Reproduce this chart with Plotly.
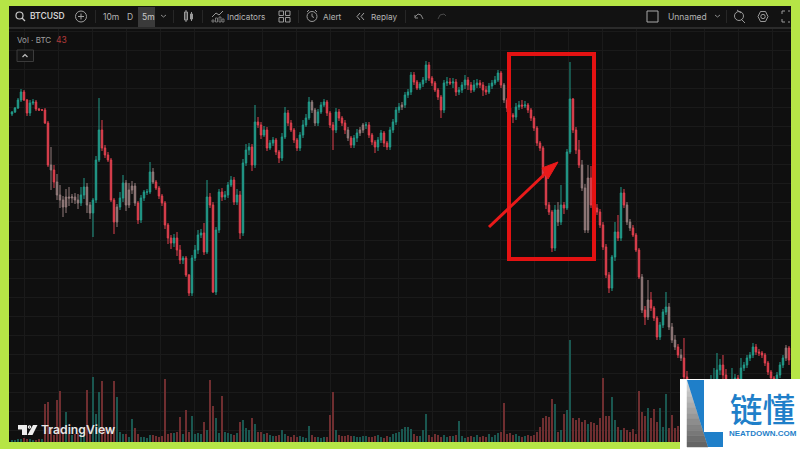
import plotly.graph_objects as go

first_open = 335
closes = [
 337,341,349,357,349,336,346,347,340,339,339,326,284,279,267,254,249,242,252,251,
 252,249,246,254,262,244,236,249,289,319,301,294,289,249,227,242,251,266,244,259,
 263,246,229,251,257,257,277,267,261,253,246,224,211,206,211,199,189,191,174,156,
 191,199,214,216,197,252,244,157,219,257,252,254,264,269,247,254,216,286,299,302,
 284,327,324,314,319,301,306,309,297,291,312,336,326,319,309,301,314,324,331,347,
 339,326,337,344,347,336,324,319,337,331,326,319,311,304,311,316,319,324,324,314,
 307,302,309,316,306,302,319,327,339,342,344,354,357,374,367,361,365,369,384,371,
 366,359,352,339,366,367,366,367,357,359,364,369,364,359,364,366,364,359,357,363,
 366,369,376,364,349,341,334,332,342,344,343,344,339,331,321,306,301,274,244,237,
 201,239,227,244,241,297,350,319,299,284,261,219,271,244,241,237,224,202,174,161,
 192,217,211,256,244,227,221,214,199,172,139,132,149,141,131,112,124,137,142,122,
 109,102,94,91,72,57,54,51,49,53,57,55,53,64,69,79,84,74,64,61,
 67,71,69,81,84,91,94,102,97,96,94,86,77,71,69,74,84,91,101,89,
]
upper_wick = [
 1,1,2,3,2,1,3,3,2,1,1,2,2,18,5,8,10,4,8,10,
 3,4,6,8,9,4,3,2,4,32,10,3,3,2,2,3,6,8,3,7,
 5,3,2,3,2,3,10,4,2,2,2,2,2,3,4,6,5,2,2,1,
 3,5,5,4,10,17,4,3,3,3,4,4,3,4,3,6,4,4,6,4,
 3,17,5,3,4,3,3,3,2,2,4,6,3,3,2,2,3,5,4,5,
 2,2,3,3,3,2,2,3,4,3,2,3,3,2,3,4,3,2,3,3,
 2,2,3,3,2,2,3,3,3,4,3,3,3,3,3,2,2,3,4,3,
 2,2,2,2,3,5,4,4,3,3,3,5,3,3,5,4,3,3,4,3,
 3,4,3,2,2,2,2,2,4,4,5,4,2,2,2,2,2,2,3,3,
 2,5,8,20,3,3,37,1,3,10,5,4,13,12,4,4,3,3,3,3,
 2,10,17,6,4,3,3,3,2,2,3,4,20,8,2,2,3,3,15,4,
 4,5,3,6,20,6,5,8,10,14,8,6,8,10,12,17,6,10,6,4,
 14,4,3,10,3,3,3,4,3,3,2,2,2,2,2,3,3,3,3,2,
]
lower_wick = [
 2,1,1,2,1,3,3,2,2,1,1,1,2,20,6,5,8,10,6,8,
 5,4,6,3,4,8,6,24,3,2,3,3,2,2,12,5,3,4,6,3,
 4,3,4,3,3,3,2,2,2,3,3,4,6,6,4,6,4,4,2,3,
 3,3,4,3,3,2,3,1,3,3,4,3,3,2,3,3,6,3,3,5,
 6,3,3,4,2,3,2,3,3,5,3,2,3,2,3,3,3,3,2,2,
 3,3,3,2,2,3,3,20,3,3,3,4,3,3,3,4,3,3,4,3,
 3,6,4,3,4,3,3,3,3,3,3,3,3,3,3,2,2,3,3,3,
 3,2,3,8,3,3,2,5,4,3,3,4,5,3,2,3,3,6,3,2,
 3,2,2,3,3,4,6,6,3,3,3,2,3,3,3,3,3,3,4,3,
 4,3,4,3,6,2,2,3,4,3,3,3,3,3,3,3,3,3,3,5,
 3,4,3,3,3,3,3,2,2,2,3,8,3,3,3,3,3,3,3,3,
 3,3,3,3,5,8,8,6,6,6,5,6,5,4,8,8,5,6,6,5,
 4,4,5,4,3,3,3,3,3,3,3,3,3,3,4,3,3,3,3,5,
]
volumes = [
 2,2,3,3,4,3,3,2,2,3,3,38,40,14,7,42,51,10,30,8,
 7,8,9,8,7,52,9,65,28,50,61,14,8,12,61,45,10,8,8,5,
 23,14,8,5,5,4,7,7,6,5,6,63,8,9,9,10,25,8,32,10,
 26,8,9,8,20,12,62,36,24,9,46,10,9,8,7,9,20,22,14,12,
 24,18,10,10,8,9,7,6,6,7,12,8,6,5,7,5,6,5,4,16,
 7,5,5,4,5,5,27,50,12,7,6,6,7,6,6,5,5,6,6,5,
 5,6,7,5,4,6,5,8,9,10,13,15,15,13,8,6,6,12,28,7,
 5,8,7,5,7,5,6,6,7,21,6,4,5,6,5,7,5,6,5,8,
 5,7,9,10,39,8,9,7,8,6,5,6,7,6,7,10,15,24,26,25,
 43,38,10,12,28,32,102,24,22,24,20,22,18,20,19,17,24,64,26,26,
 45,22,15,12,14,12,10,13,8,51,30,26,34,24,33,20,34,15,48,14,
 27,14,16,10,8,10,9,7,6,5,8,7,6,5,7,6,5,6,7,6,
 5,6,5,7,6,5,6,5,4,5,6,4,5,6,5,4,6,5,4,5,
]
# bars that read as a muted grey in the reference (small, blended bodies)
muted_bars = [13, 15, 16, 17, 18, 19, 20, 21, 22, 25, 26, 35, 38, 39, 40, 41, 47,
              100, 101, 112, 116, 117, 130, 164, 182, 190, 191, 192, 205, 206,
              210, 212, 219, 220, 221, 223, 258]
toolbar_labels = ["BTCUSD", "10m", "D", "5m", "Indicators", "Alert", "Replay", "Unnamed"]
study_label = "Vol · BTC"
study_value = "43"

bars = list(range(len(closes)))
opens = [first_open] + closes[:-1]
highs = [max(o, c) + u for o, c, u in zip(opens, closes, upper_wick)]
lows = [min(o, c) - l for o, c, l in zip(opens, closes, lower_wick)]

W, H = 800, 449
RED, TEAL = "#e0404f", "#229c8b"
GREY = "#947c7c"
VRED, VTEAL = "#6f2e30", "#1a5750"
GREEN = "#b6e546"
PANEL = "#0f0f0f"
TXT = "#b4b4b4"
FONT = "Inter"


def X(px):
    return round(px / W, 5)


def Y(py):
    return round(1 - py / H, 5)


def path(points, close=False):
    s = "M" + " L".join(f"{X(a)},{Y(b)}" for a, b in points)
    return s + (" Z" if close else "")


shapes = []


def rect(x0, y0, x1, y1, fill, line=None, lw=0):
    shapes.append(dict(type="rect", xref="paper", yref="paper", x0=X(x0), x1=X(x1), y0=Y(y0), y1=Y(y1),
                       fillcolor=fill, line=dict(color=line or fill, width=lw), layer="above"))


def poly(points, fill=None, line=None, lw=1, close=True):
    shapes.append(dict(type="path", xref="paper", yref="paper", path=path(points, close),
                       fillcolor=fill or "rgba(0,0,0,0)", line=dict(color=line or "rgba(0,0,0,0)", width=lw),
                       layer="above"))


def circ(cx, cy, r, line=TXT, lw=1):
    shapes.append(dict(type="circle", xref="paper", yref="paper", x0=X(cx - r), x1=X(cx + r), y0=Y(cy + r),
                       y1=Y(cy - r), line=dict(color=line, width=lw), layer="above"))


# frame
rect(0, 0, W, 6, GREEN)
rect(0, 442, W, H, GREEN)
rect(0, 0, 9, H, GREEN)
rect(791, 0, W, H, GREEN)
# toolbar
rect(9, 6, 791, 27, "#121212")
rect(9, 27, 791, 29, "#2b2b2b")
rect(138, 7, 155, 27, "#3a3a3a")
for sx in [95, 173, 202, 298, 405, 726]:
    rect(sx, 10, sx + 0.8, 23, "#2e2e2e")
# search icon
circ(19.5, 15.5, 3.5, "#c8c8c8", 1.2)
poly([(22, 18), (25, 21)], line="#c8c8c8", lw=1.2, close=False)
# plus
circ(81, 16.5, 5.5, "#a0a0a0", 1)
poly([(78, 16.5), (84, 16.5)], line="#a0a0a0", close=False)
poly([(81, 13.5), (81, 19.5)], line="#a0a0a0", close=False)
# chevrons
poly([(161, 15), (163.5, 17), (166, 15)], line="#8a8a8a", close=False)
poly([(715, 15), (717.5, 17), (720, 15)], line="#8a8a8a", close=False)
# candles icon
rect(184.5, 12, 187.5, 20, "rgba(0,0,0,0)", "#9a9a9a", 1)
poly([(186, 10), (186, 22)], line="#9a9a9a", close=False)
rect(190.5, 14, 192.5, 19, "rgba(0,0,0,0)", "#9a9a9a", 1)
poly([(191.5, 12), (191.5, 21)], line="#9a9a9a", close=False)
# indicators icon
poly([(212, 17), (216, 13), (219, 15), (223, 11)], line="#9a9a9a", close=False)
for bx, top in [(212, 20), (215.5, 18), (219, 17), (222, 19)]:
    rect(bx, top, bx + 2, 22, "rgba(0,0,0,0)", "#8a8a8a", 0.8)
# layouts icon
for gx in [279, 285.5]:
    for gy in [11, 17.5]:
        rect(gx, gy, gx + 4.5, gy + 4.5, "rgba(0,0,0,0)", "#9a9a9a", 1)
# alert icon
circ(312, 16.5, 5, "#9a9a9a", 1)
poly([(312, 13.5), (312, 16.5), (314, 17.5)], line="#9a9a9a", close=False)
poly([(307, 12), (309, 10)], line="#9a9a9a", close=False)
poly([(315, 10), (317, 12)], line="#9a9a9a", close=False)
# replay icon
poly([(360, 13), (357, 16.5), (360, 20)], line="#a0a0a0", close=False)
poly([(364, 13), (361, 16.5), (364, 20)], line="#a0a0a0", close=False)
# undo / redo
poly([(415, 17), (418, 14), (421, 15), (423, 19)], line="#8a8a8a", close=False)
poly([(415, 15), (415, 18), (418, 18)], line="#8a8a8a", close=False)
poly([(438, 19), (440, 15), (444, 14), (446, 16)], line="#4a4a4a", close=False)
# layout square
rect(647, 11, 658, 22, "rgba(0,0,0,0)", "#a8a8a8", 1)
# right icons
circ(739, 16, 4.5, "#9a9a9a", 1)
poly([(741, 19), (745, 23)], line="#9a9a9a", close=False)
poly([(737, 10), (741, 13)], line="#9a9a9a", close=False)
poly([(758, 16.5), (760.5, 11.5), (765.5, 11.5), (768, 16.5), (765.5, 21.5), (760.5, 21.5)], line="#9a9a9a")
circ(763, 16.5, 2.2, "#9a9a9a", 1)
for a in [[(782, 14), (782, 11), (785, 11)], [(788, 11), (790, 11)], [(782, 19), (782, 22), (785, 22)], [(788, 22), (790, 22)]]:
    poly(a, line="#9a9a9a", close=False)
# study collapse button
rect(17, 50, 33.5, 61.5, "#151515", "#3c3c3c", 1)
poly([(22.5, 57), (25, 54.5), (27.5, 57)], line="#c0c0c0", lw=1.2, close=False)
# highlight box and arrow
rect(509, 54, 594, 259, "rgba(0,0,0,0)", "#e41212", 4)
poly([(489, 227), (548, 171)], line="#ea1a1a", lw=3, close=False)
poly([(558, 162), (542, 168), (548, 179)], fill="#ea1a1a", line="#ea1a1a", lw=1)
# TradingView glyph
poly([(18, 425), (27, 425), (27, 435), (22, 435), (22, 429.5), (18, 429.5)], fill="#eeeeee")
poly([(33, 425), (37.5, 425), (32.5, 435), (27.5, 435)], fill="#eeeeee")
circ(29.5, 427, 1.2, "#eeeeee", 1.2)
# site logo
rect(680, 379, W, H, "#ffffff")
steps = 12
for s in range(steps):
    t0, t1 = s / steps, (s + 1) / steps
    g = int(225 - 125 * t1)
    poly([(687, 380 + 67 * t0), (687 + 21 * t0, 380 + 67 * t0), (687 + 21 * t1, 380 + 67 * t1), (687, 380 + 67 * t1)],
         fill=f"rgb({g},{g},{g})", line=f"rgb({g},{g},{g})", lw=0.5)
poly([(687, 380), (704, 380), (704, 432), (723, 432), (723, 447), (708, 447)], fill="#1f7fc9")


def txt(px, py, s, size=9, color=TXT, anchor="left", font=FONT, weight=None):
    return dict(x=X(px), y=Y(py), xref="paper", yref="paper", text=s, showarrow=False, xanchor=anchor,
                yanchor="middle", font=dict(family=font, size=size, color=color, weight=weight))


annotations = [
    txt(27.5, 16, toolbar_labels[0], 8.5, "#d0d0d0", weight=600),
    txt(101, 16.5, toolbar_labels[1], 8.5),
    txt(125, 16.5, toolbar_labels[2], 8.5),
    txt(139.5, 16.5, toolbar_labels[3], 8.5, "#c8c8c8"),
    txt(225.5, 16.5, toolbar_labels[4], 8.2),
    txt(321.5, 16.5, toolbar_labels[5], 8.2),
    txt(369.5, 16.5, toolbar_labels[6], 8.2),
    txt(665.5, 16.5, toolbar_labels[7], 8.5),
    txt(15.5, 40, study_label, 8, "#a0a0a0"),
    txt(54, 40, study_value, 8.5, "#b23a3a"),
    txt(39, 430, "TradingView", 12.2, "#e6e6e6", weight=600),
    txt(762, 407.5, "链懂", 32.5, "#1f7fc9", "center", "Noto Sans CJK SC", 500),
    txt(763, 433, "NEATDOWN.COM", 8, "#1f7fc9", "center", "Liberation Sans", 700),
]


def subset(values, keep):
    return [v if keep(i) else None for i, v in enumerate(values)]


muted = set(muted_bars)
fig = go.Figure()
fig.add_trace(go.Bar(x=bars, y=volumes, yaxis="y2", width=0.6,
                     marker=dict(color=[VRED if c < o else VTEAL for o, c in zip(opens, closes)], line_width=0)))
fig.add_trace(go.Candlestick(x=bars, open=subset(opens, lambda i: i not in muted),
                             high=subset(highs, lambda i: i not in muted),
                             low=subset(lows, lambda i: i not in muted),
                             close=subset(closes, lambda i: i not in muted), whiskerwidth=0,
                             increasing=dict(line=dict(color=TEAL, width=1), fillcolor=TEAL),
                             decreasing=dict(line=dict(color=RED, width=1), fillcolor=RED)))
fig.add_trace(go.Candlestick(x=bars, open=subset(opens, lambda i: i in muted),
                             high=subset(highs, lambda i: i in muted),
                             low=subset(lows, lambda i: i in muted),
                             close=subset(closes, lambda i: i in muted), whiskerwidth=0,
                             increasing=dict(line=dict(color=GREY, width=1), fillcolor=GREY),
                             decreasing=dict(line=dict(color=GREY, width=1), fillcolor=GREY)))
fig.update_layout(
    width=W, height=H, margin=dict(l=0, r=0, t=0, b=0), autosize=False, showlegend=False,
    paper_bgcolor=PANEL, plot_bgcolor=PANEL, shapes=shapes, annotations=annotations,
    font=dict(family=FONT),
    xaxis=dict(range=[-4, 262.67], rangeslider=dict(visible=False), showticklabels=False, ticks="",
               showgrid=True, gridcolor="#1a1a1a", gridwidth=1, dtick=34 / 3, tick0=4.2, zeroline=False),
    yaxis=dict(range=[0, 449], showticklabels=False, ticks="", showgrid=True, gridcolor="#1a1a1a",
               gridwidth=1, dtick=19, tick0=0, zeroline=False),
    yaxis2=dict(range=[-7, 442], overlaying="y", showticklabels=False, ticks="", showgrid=False, zeroline=False),
)
fig.write_html("out.html", config=dict(displayModeBar=False),
               post_script="document.body.style.margin='0';document.body.style.overflow='hidden';")
